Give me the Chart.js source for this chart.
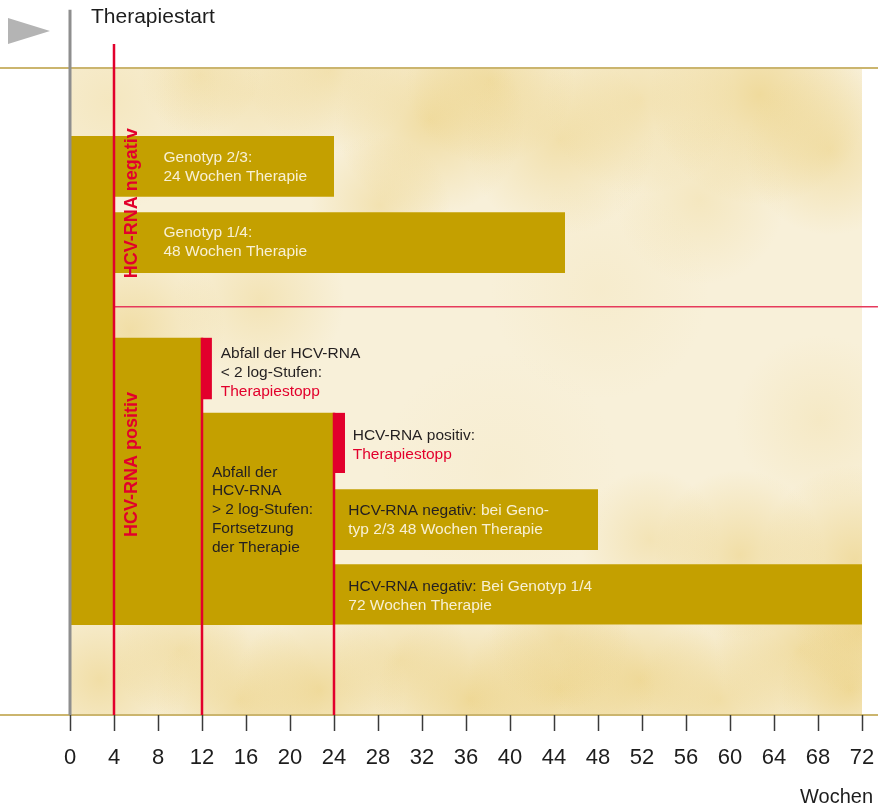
<!DOCTYPE html>
<html lang="de">
<head>
<meta charset="utf-8">
<title>HCV-Therapie nach Ansprechen</title>
<script src="https://cdn.jsdelivr.net/npm/chart.js@4/dist/chart.umd.min.js"></script>
<style>
  html, body { margin: 0; padding: 0; background: #fff; }
  canvas { display: block; }
</style>
</head>
<body>
<canvas id="therapyChart" width="878" height="806"></canvas>
<script>
// Achse: Wochen seit Therapiestart
const weekMin = 0;
const weekMax = 72;
const weekStep = 4;

// Balken (x in Wochen, y in % der Diagrammhöhe, von oben gezählt)
const barNames  = ['Woche 0-4', 'Genotyp 2/3', 'Genotyp 1/4', 'HCV-RNA positiv', 'Stopp Woche 12',
                   'Fortsetzung', 'Stopp Woche 24', 'Genotyp 2/3 48 Wochen', 'Genotyp 1/4 72 Wochen'];
const barStart  = [0, 4, 4, 4, 12, 12, 24, 24, 24];
const barEnd    = [4, 24, 45, 12, 12.9, 24, 25, 48, 72];
const barTop    = [10.5, 10.5, 22.3, 41.7, 41.7, 53.3, 53.3, 65.1, 76.7];
const barBottom = [86.1, 19.9, 31.7, 86.1, 51.2, 86.1, 62.6, 74.5, 86.0];
const barStop   = [false, false, false, false, true, false, true, false, false];

// rote Kontrollzeitpunkte (Woche 4, 12, 24)
const markerWeek = [4, 12, 24];
const markerFrom = [-3.7, 41.7, 53.3];
const markerTo   = [100, 100, 100];
// Trennlinie negativ / positiv
const dividerY = 36.9;
const dividerWeeks = [4, 73.45];

// Beschriftungen in den Balken: Zeilen aus [Text, Farbe]
const noteX = [8.5, 8.5, 13.7, 25.7, 12.9, 25.3, 25.3];
const noteY = [13.9, 25.5, 44.2, 56.9, 62.5, 68.5, 80.2];
const noteLines = [
  [[['Genotyp 2/3:', 'light']], [['24 Wochen Therapie', 'light']]],
  [[['Genotyp 1/4:', 'light']], [['48 Wochen Therapie', 'light']]],
  [[['Abfall der HCV-RNA', 'dark']], [['< 2 log-Stufen:', 'dark']], [['Therapiestopp', 'red']]],
  [[['HCV-RNA positiv:', 'dark']], [['Therapiestopp', 'red']]],
  [[['Abfall der', 'dark']], [['HCV-RNA', 'dark']], [['> 2 log-Stufen:', 'dark']],
   [['Fortsetzung', 'dark']], [['der Therapie', 'dark']]],
  [[['HCV-RNA negativ: ', 'dark'], ['bei Geno-', 'light']], [['typ 2/3 48 Wochen Therapie', 'light']]],
  [[['HCV-RNA negativ: ', 'dark'], ['Bei Genotyp 1/4', 'light']], [['72 Wochen Therapie', 'light']]]
];
const sideLabels = ['HCV-RNA negativ', 'HCV-RNA positiv'];
const sideX = [5.6, 5.6];
const sideY = [20.9, 61.3];

const GOLD = '#c4a000';
const RED = '#e2002c';
const textColors = { light: '#f8f0d4', dark: '#231f20', red: '#e2002c' };

Chart.defaults.font.family = "'Liberation Sans', Arial, sans-serif";

// Datensätze: jeder Balken ist eine Linie an der Oberkante, bis zur Unterkante gefüllt
const barSets = barStart.map((s, i) => ({
  label: barNames[i],
  data: [{ x: s, y: barTop[i] }, { x: barEnd[i], y: barTop[i] }],
  fill: { value: barBottom[i] },
  backgroundColor: barStop[i] ? RED : GOLD,
  borderColor: 'transparent',
  borderWidth: 0,
  pointRadius: 0,
  order: 2
}));

const markerSets = markerWeek.map((w, i) => ({
  label: 'Woche ' + w,
  data: [{ x: w, y: markerFrom[i] }, { x: w, y: markerTo[i] }],
  borderColor: RED,
  borderWidth: 2.5,
  pointRadius: 0,
  fill: false,
  clip: false,
  order: 0
}));

const dividerSet = {
  label: 'Trennlinie',
  data: dividerWeeks.map(w => ({ x: w, y: dividerY })),
  borderColor: '#e63a5c',
  borderWidth: 1.5,
  pointRadius: 0,
  fill: false,
  clip: false,
  order: 0
};

const startAxisSet = {
  label: 'Therapiestart',
  data: [{ x: 0, y: -9 }, { x: 0, y: 100 }],
  borderColor: '#8e8e8e',
  borderWidth: 3,
  pointRadius: 0,
  fill: false,
  clip: false,
  order: 0
};

// heller, gemaserter Hintergrund (x, y, Radius, Deckkraft)
const blobs = [
  [110, 100, 110, .25], [250, 95, 95, .3], [330, 70, 85, .4], [430, 120, 95, .55], [490, 80, 85, .5],
  [560, 140, 95, .45], [640, 100, 95, .4], [760, 95, 110, .6], [830, 150, 85, .45], [700, 200, 85, .25],
  [380, 205, 70, .4], [200, 75, 60, .3],
  [130, 330, 95, .5], [260, 300, 85, .35], [600, 290, 110, .12], [820, 420, 85, .2], [855, 560, 95, .55],
  [740, 555, 85, .5], [650, 540, 70, .35], [500, 470, 120, .08],
  [100, 680, 85, .5], [180, 650, 70, .45], [240, 700, 85, .55], [320, 690, 85, .6], [400, 660, 70, .45],
  [470, 700, 95, .65], [560, 690, 95, .6], [640, 680, 85, .6], [720, 700, 85, .5], [800, 650, 85, .55],
  [850, 690, 70, .6], [560, 640, 70, .35], [860, 630, 65, .55]
];

const decor = {
  id: 'decor',
  beforeDraw(chart) {
    const { ctx, chartArea: a, width, height } = chart;
    ctx.save();
    ctx.fillStyle = '#fff';
    ctx.fillRect(0, 0, width, height);
    ctx.beginPath();
    ctx.rect(a.left, a.top, a.right - a.left, a.bottom - a.top);
    ctx.clip();
    ctx.fillStyle = '#f8f0d9';
    ctx.fillRect(a.left, a.top, a.right - a.left, a.bottom - a.top);
    blobs.forEach(([x, y, r, al]) => {
      const g = ctx.createRadialGradient(x, y, 0, x, y, r);
      g.addColorStop(0, `rgba(234,204,116,${al})`);
      g.addColorStop(1, 'rgba(234,204,116,0)');
      ctx.fillStyle = g;
      ctx.fillRect(x - r, y - r, 2 * r, 2 * r);
    });
    ctx.restore();

    // goldene Begrenzungslinien über die ganze Breite
    ctx.save();
    ctx.strokeStyle = '#cbb56e';
    ctx.lineWidth = 2;
    [a.top, a.bottom].forEach(y => {
      ctx.beginPath();
      ctx.moveTo(0, y);
      ctx.lineTo(width, y);
      ctx.stroke();
    });
    // Fähnchen
    ctx.fillStyle = '#b4b4b4';
    ctx.beginPath();
    ctx.moveTo(8, 18);
    ctx.lineTo(50, 31);
    ctx.lineTo(8, 44);
    ctx.closePath();
    ctx.fill();
    ctx.restore();
  },
  afterDatasetsDraw(chart) {
    const { ctx, scales: { x, y } } = chart;
    ctx.save();
    ctx.textBaseline = 'middle';
    ctx.textAlign = 'left';

    ctx.font = "15.5px 'Liberation Sans', Arial, sans-serif";
    noteLines.forEach((lines, i) => {
      const px = x.getPixelForValue(noteX[i]);
      const py = y.getPixelForValue(noteY[i]);
      lines.forEach((parts, j) => {
        let cx = px;
        parts.forEach(([txt, col]) => {
          ctx.fillStyle = textColors[col];
          ctx.fillText(txt, cx, py + j * 18.8);
          cx += ctx.measureText(txt).width;
        });
      });
    });

    ctx.font = "bold 18px 'Liberation Sans', Arial, sans-serif";
    ctx.fillStyle = RED;
    ctx.textAlign = 'center';
    sideLabels.forEach((txt, i) => {
      ctx.save();
      ctx.translate(x.getPixelForValue(sideX[i]), y.getPixelForValue(sideY[i]));
      ctx.rotate(-Math.PI / 2);
      ctx.fillText(txt, 0, 0);
      ctx.restore();
    });

    ctx.fillStyle = '#1d1d1d';
    ctx.textAlign = 'left';
    ctx.font = "21px 'Liberation Sans', Arial, sans-serif";
    ctx.fillText('Therapiestart', x.getPixelForValue(0) + 21, 17);
    ctx.textAlign = 'right';
    ctx.font = "20px 'Liberation Sans', Arial, sans-serif";
    ctx.fillText('Wochen', chart.width - 5, 797);
    ctx.restore();
  }
};

new Chart(document.getElementById('therapyChart'), {
  type: 'line',
  data: {
    datasets: [startAxisSet, ...markerSets, dividerSet, ...barSets]
  },
  options: {
    responsive: false,
    animation: false,
    events: [],
    layout: { padding: { left: 70, right: 16, top: 68, bottom: 0 } },
    plugins: {
      legend: { display: false },
      tooltip: { enabled: false }
    },
    scales: {
      x: {
        type: 'linear',
        min: weekMin,
        max: weekMax,
        afterFit: s => {
          s.height = 91;
          s.paddingLeft = 0;
          s.paddingRight = 0;
        },
        border: { display: false },
        grid: { drawOnChartArea: false, tickLength: 16, tickColor: '#3a3a3a', tickWidth: 1.5 },
        ticks: { stepSize: weekStep, color: '#1d1d1d', font: { size: 22 }, padding: 14, maxRotation: 0 }
      },
      y: {
        type: 'linear',
        reverse: true,
        min: 0,
        max: 100,
        display: false
      }
    }
  },
  plugins: [decor]
});
</script>
</body>
</html>
